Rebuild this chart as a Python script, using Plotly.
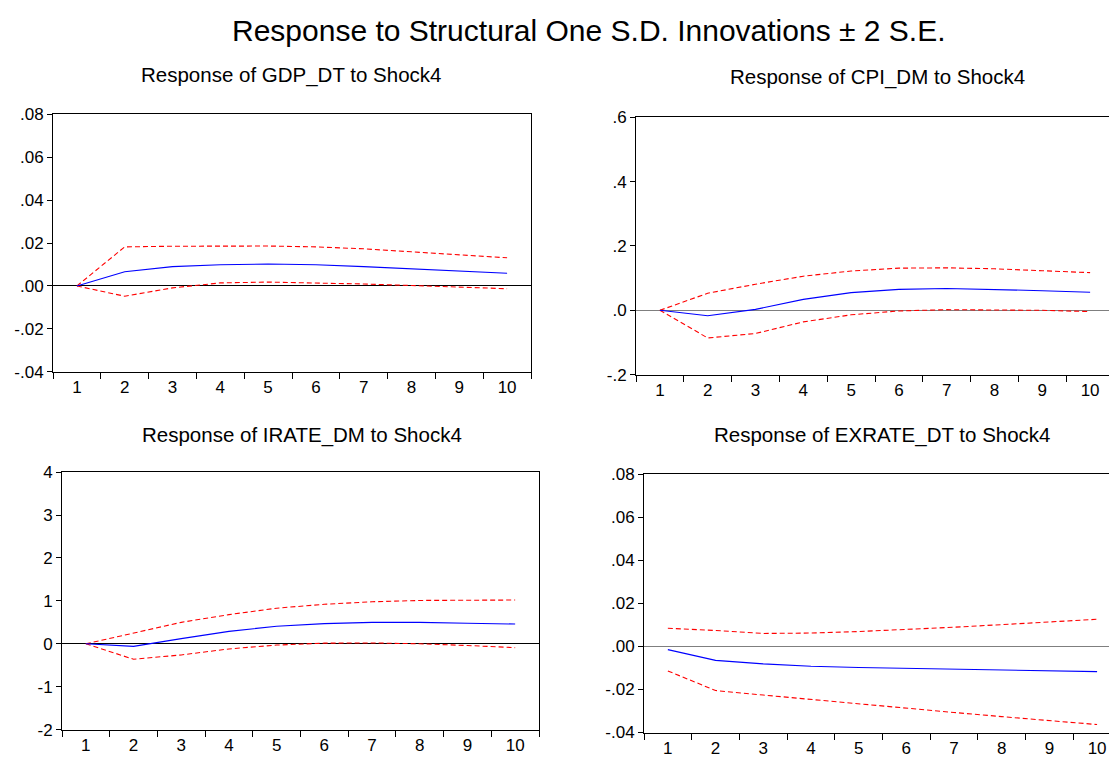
import plotly.graph_objects as go

W, H = 1109, 763

periods = ["1", "2", "3", "4", "5", "6", "7", "8", "9", "10"]

gdp_resp = [0.0, 0.0066, 0.0090, 0.0099, 0.0102, 0.0099, 0.0090, 0.0080, 0.0069, 0.0059]
gdp_up = [0.0, 0.0182, 0.0185, 0.0185, 0.0186, 0.0182, 0.0173, 0.0159, 0.0144, 0.0131]
gdp_lo = [0.0, -0.0048, -0.0009, 0.0014, 0.0018, 0.0015, 0.0009, 0.0002, -0.0006, -0.0013]

cpi_resp = [0.0, -0.017, 0.003, 0.034, 0.055, 0.065, 0.068, 0.065, 0.061, 0.056]
cpi_up = [0.0, 0.053, 0.081, 0.106, 0.122, 0.131, 0.132, 0.129, 0.123, 0.117]
cpi_lo = [0.0, -0.086, -0.072, -0.036, -0.014, -0.002, 0.002, 0.002, 0.0, -0.004]

irate_resp = [0.0, -0.06, 0.12, 0.29, 0.41, 0.47, 0.50, 0.50, 0.48, 0.46]
irate_up = [0.0, 0.25, 0.50, 0.68, 0.83, 0.92, 0.98, 1.01, 1.02, 1.02]
irate_lo = [0.0, -0.36, -0.26, -0.12, -0.03, 0.015, 0.02, 0.0, -0.04, -0.09]

exrate_resp = [-0.0015, -0.0065, -0.0081, -0.0092, -0.0098, -0.0102, -0.0107, -0.0110, -0.0114, -0.0117]
exrate_up = [0.0084, 0.0074, 0.0060, 0.0062, 0.0069, 0.0078, 0.0089, 0.0101, 0.0113, 0.0126]
exrate_lo = [-0.0114, -0.0205, -0.0226, -0.0247, -0.0266, -0.0287, -0.0307, -0.0326, -0.0344, -0.0363]

gdp_ticks = [0.08, 0.06, 0.04, 0.02, 0.0, -0.02, -0.04]
gdp_ticktext = [".08", ".06", ".04", ".02", ".00", "-.02", "-.04"]
cpi_ticks = [0.6, 0.4, 0.2, 0.0, -0.2]
cpi_ticktext = [".6", ".4", ".2", ".0", "-.2"]
irate_ticks = [4, 3, 2, 1, 0, -1, -2]
irate_ticktext = ["4", "3", "2", "1", "0", "-1", "-2"]
exrate_ticks = [0.08, 0.06, 0.04, 0.02, 0.0, -0.02, -0.04]
exrate_ticktext = [".08", ".06", ".04", ".02", ".00", "-.02", "-.04"]

main_title = "Response to Structural One S.D. Innovations \u00b1 2 S.E."
titles = ["Response of GDP_DT to Shock4", "Response of CPI_DM to Shock4",
          "Response of IRATE_DM to Shock4", "Response of EXRATE_DT to Shock4"]

FONT = "Liberation Sans, Arial, sans-serif"

panels = [
    dict(l=53, r=531, t=108, b=372, xend=9.5, yr=[-0.04, 0.08], zc="black", mirror=True,
         data=(gdp_resp, gdp_up, gdp_lo), tv=gdp_ticks, tt=gdp_ticktext, tx=291, ty=68),
    dict(l=636, r=1109, t=111, b=375, xend=9.395, yr=[-0.2, 0.6], zc="#7f7f7f", mirror=False,
         data=(cpi_resp, cpi_up, cpi_lo), tv=cpi_ticks, tt=cpi_ticktext, tx=877, ty=70),
    dict(l=62, r=539, t=475, b=739, xend=9.5, yr=[-2, 4], zc="black", mirror=True,
         data=(irate_resp, irate_up, irate_lo), tv=irate_ticks, tt=irate_ticktext, tx=302, ty=437),
    dict(l=644, r=1109, t=477, b=742, xend=9.25, yr=[-0.04, 0.08], zc="#7f7f7f", mirror=False,
         data=(exrate_resp, exrate_up, exrate_lo), tv=exrate_ticks, tt=exrate_ticktext, tx=882, ty=437),
]

fig = go.Figure()
annotations = [dict(text=main_title, x=588.5 / W, y=1 - 22 / H, xref="paper", yref="paper",
                    xanchor="center", yanchor="middle", showarrow=False,
                    font=dict(family=FONT, size=30, color="black"))]

for i, p in enumerate(panels):
    k = "" if i == 0 else str(i + 1)
    xa, ya = "x" + k, "y" + k
    resp, up, lo = p["data"]
    for ys, col, dash in [(up, "#ff0000", "5px,3px"), (lo, "#ff0000", "5px,3px"), (resp, "#0000ff", "solid")]:
        fig.add_trace(go.Scatter(x=periods, y=ys, mode="lines", xaxis=xa, yaxis=ya,
                                 line=dict(color=col, width=1.1, dash=dash), showlegend=False,
                                 hoverinfo="skip"))
    fig.layout["xaxis" + k] = dict(
        domain=[p["l"] / W, p["r"] / W], anchor=ya, type="category",
        range=[-0.5, p["xend"]], tickson="boundaries", ticks="outside", ticklen=6,
        tickcolor="black", showline=True, linecolor="black", linewidth=1, mirror=True,
        showgrid=False, zeroline=False, ticklabeloverflow="allow",
        tickfont=dict(family=FONT, size=17, color="black"))
    fig.layout["yaxis" + k] = dict(
        domain=[1 - p["b"] / H, 1 - p["t"] / H], anchor=xa, range=p["yr"],
        tickvals=p["tv"], ticktext=p["tt"], ticks="outside", ticklen=5, tickcolor="black",
        showline=True, linecolor="black", linewidth=1, mirror=p["mirror"],
        showgrid=False, zeroline=True, zerolinecolor=p["zc"], zerolinewidth=1,
        tickfont=dict(family=FONT, size=17, color="black"))
    annotations.append(dict(text=titles[i], x=p["tx"] / W, y=1 - p["ty"] / H, xref="paper",
                            yref="paper", xanchor="center", yanchor="middle", showarrow=False,
                            font=dict(family=FONT, size=20.5, color="black")))

fig.update_layout(width=W, height=H, margin=dict(l=0, r=0, t=0, b=0),
                  paper_bgcolor="white", plot_bgcolor="white", annotations=annotations)

fig.write_html("out.html")
